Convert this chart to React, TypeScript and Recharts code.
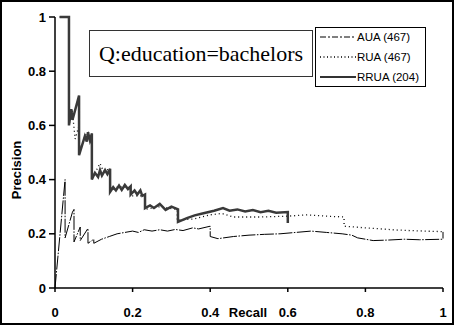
import { LineChart, Line, XAxis, YAxis } from 'recharts';

// recall / precision pairs
const AUA: [number, number][] = [
  [0, 0], [0.026, 0.4], [0.026, 0.185], [0.045, 0.28], [0.049, 0.29], [0.049, 0.17],
  [0.065, 0.225], [0.065, 0.175], [0.085, 0.22], [0.085, 0.165], [0.1, 0.18], [0.1, 0.165],
  [0.12, 0.18], [0.14, 0.19], [0.16, 0.2], [0.18, 0.205], [0.2, 0.21], [0.215, 0.205],
  [0.23, 0.215], [0.25, 0.21], [0.27, 0.215], [0.29, 0.21], [0.31, 0.216], [0.33, 0.212],
  [0.355, 0.222], [0.37, 0.218], [0.4, 0.228], [0.4, 0.19], [0.42, 0.182], [0.46, 0.19],
  [0.5, 0.195], [0.54, 0.198], [0.58, 0.2], [0.62, 0.205], [0.66, 0.21], [0.7, 0.205],
  [0.74, 0.2], [0.765, 0.195], [0.78, 0.185], [0.82, 0.175], [0.86, 0.177], [0.9, 0.18],
  [0.94, 0.178], [1, 0.18], [1, 0.207],
];

const RUA: [number, number][] = [
  [0.012, 1], [0.036, 1], [0.036, 0.6], [0.044, 0.66], [0.052, 0.55], [0.062, 0.6],
  [0.062, 0.5], [0.077, 0.56], [0.085, 0.575], [0.095, 0.57], [0.095, 0.41], [0.105, 0.43],
  [0.116, 0.46], [0.125, 0.43], [0.142, 0.44], [0.142, 0.36], [0.165, 0.375], [0.195, 0.37],
  [0.195, 0.34], [0.232, 0.34], [0.232, 0.29], [0.27, 0.3], [0.315, 0.29], [0.315, 0.25],
  [0.36, 0.255], [0.4, 0.27], [0.43, 0.275], [0.46, 0.262], [0.53, 0.262], [0.6, 0.265],
  [0.65, 0.27], [0.7, 0.265], [0.745, 0.262], [0.745, 0.228], [0.8, 0.222], [0.88, 0.214],
  [0.95, 0.21], [1, 0.208],
];

const RRUA: [number, number][] = [
  [0.012, 1], [0.036, 1], [0.036, 0.6], [0.042, 0.66], [0.045, 0.62], [0.062, 0.71],
  [0.062, 0.49], [0.077, 0.56], [0.082, 0.54], [0.085, 0.575], [0.09, 0.545], [0.095, 0.57],
  [0.095, 0.4], [0.103, 0.425], [0.111, 0.41], [0.116, 0.435], [0.121, 0.415], [0.129, 0.435],
  [0.135, 0.42], [0.142, 0.44], [0.142, 0.355], [0.15, 0.372], [0.157, 0.36], [0.165, 0.378],
  [0.172, 0.362], [0.18, 0.38], [0.188, 0.365], [0.195, 0.375], [0.195, 0.345], [0.205, 0.36],
  [0.212, 0.345], [0.22, 0.36], [0.225, 0.34], [0.232, 0.345], [0.232, 0.295], [0.245, 0.305],
  [0.255, 0.295], [0.27, 0.31], [0.285, 0.288], [0.3, 0.3], [0.317, 0.29], [0.317, 0.244],
  [0.34, 0.258], [0.36, 0.268], [0.38, 0.275], [0.41, 0.285], [0.433, 0.295], [0.45, 0.285],
  [0.47, 0.29], [0.49, 0.282], [0.51, 0.288], [0.53, 0.28], [0.55, 0.285], [0.57, 0.278],
  [0.6, 0.28], [0.6, 0.24],
];

const recallTicks = [0, 0.2, 0.4, 0.6, 0.8, 1];
const precisionTicks = [0, 0.2, 0.4, 0.6, 0.8, 1];

const toRows = (pts: [number, number][]) => pts.map(([recall, precision]) => ({ recall, precision }));

const AXIS_FONT = { fontFamily: 'Liberation Sans, Arial, sans-serif', fontSize: 13, fontWeight: 'bold', fill: '#000' };

const legendItems = [
  { name: 'AUA (467)', dash: '6 2 2 2', width: 1, color: '#000' },
  { name: 'RUA (467)', dash: '1 2.5', width: 1.3, color: '#000' },
  { name: 'RRUA (204)', dash: undefined, width: 2, color: '#333' },
];

function LegendBox() {
  return (
    <div
      style={{
        position: 'absolute',
        left: 315,
        top: 27,
        width: 111,
        height: 60,
        border: '1px solid #000',
        boxSizing: 'border-box',
        background: '#fff',
      }}
    >
      <svg width={109} height={58} style={{ display: 'block' }}>
        {legendItems.map((it, i) => {
          const y = 9 + i * 20;
          return (
            <g key={it.name}>
              <line x1={4} x2={40} y1={y} y2={y} stroke={it.color} strokeWidth={it.width} strokeDasharray={it.dash} />
              <text x={41} y={y + 4} fontFamily="Liberation Sans, Arial, sans-serif" fontSize={11.5} fill="#000">
                {it.name}
              </text>
            </g>
          );
        })}
      </svg>
    </div>
  );
}

export default function App() {
  return (
    <div style={{ position: 'absolute', left: 0, top: 0, width: 454, height: 325, background: '#fff' }}>
      <LineChart width={454} height={325} margin={{ top: 17, right: 11, bottom: 0, left: 0 }}>
        <XAxis
          type="number"
          dataKey="recall"
          domain={[0, 1]}
          ticks={recallTicks}
          tickFormatter={(v) => String(v)}
          height={37}
          tickSize={4}
          tickMargin={16}
          tick={AXIS_FONT}
          stroke="#000"
          strokeWidth={1.5}
          label={{
            content: () => (
              <text x={248} y={317} textAnchor="middle" {...AXIS_FONT}>
                Recall
              </text>
            ),
          }}
        />
        <YAxis
          type="number"
          domain={[0, 1]}
          ticks={precisionTicks}
          tickFormatter={(v) => String(v)}
          width={55}
          tickSize={6}
          tickMargin={3}
          tick={AXIS_FONT}
          stroke="#000"
          strokeWidth={1.5}
          label={{
            content: () => (
              <text x={21} y={170} textAnchor="middle" transform="rotate(-90 21 170)" {...AXIS_FONT}>
                Precision
              </text>
            ),
          }}
        />
        <Line
          name="AUA (467)"
          data={toRows(AUA)}
          dataKey="precision"
          stroke="#000"
          strokeWidth={1}
          strokeDasharray="14 1.5 1.5 1.5"
          dot={false}
          isAnimationActive={false}
        />
        <Line
          name="RUA (467)"
          data={toRows(RUA)}
          dataKey="precision"
          stroke="#000"
          strokeWidth={1.3}
          strokeDasharray="1 3"
          dot={false}
          isAnimationActive={false}
        />
        <Line
          name="RRUA (204)"
          data={toRows(RRUA)}
          dataKey="precision"
          stroke="#3a3a3a"
          strokeWidth={2.5}
          dot={false}
          isAnimationActive={false}
        />
      </LineChart>
      <LegendBox />
      <div
        style={{
          position: 'absolute',
          left: 89,
          top: 30,
          width: 224,
          height: 47,
          boxSizing: 'border-box',
          border: '1px solid #333',
          fontFamily: 'Liberation Serif, Times New Roman, serif',
          fontSize: 22,
          lineHeight: '45px',
          textAlign: 'center',
          color: '#000',
          background: '#fff',
        }}
      >
        Q:education=bachelors
      </div>
      <div
        style={{
          position: 'absolute',
          left: 0,
          top: 0,
          width: 454,
          height: 325,
          boxSizing: 'border-box',
          border: '2px solid #000',
          pointerEvents: 'none',
        }}
      />
    </div>
  );
}
